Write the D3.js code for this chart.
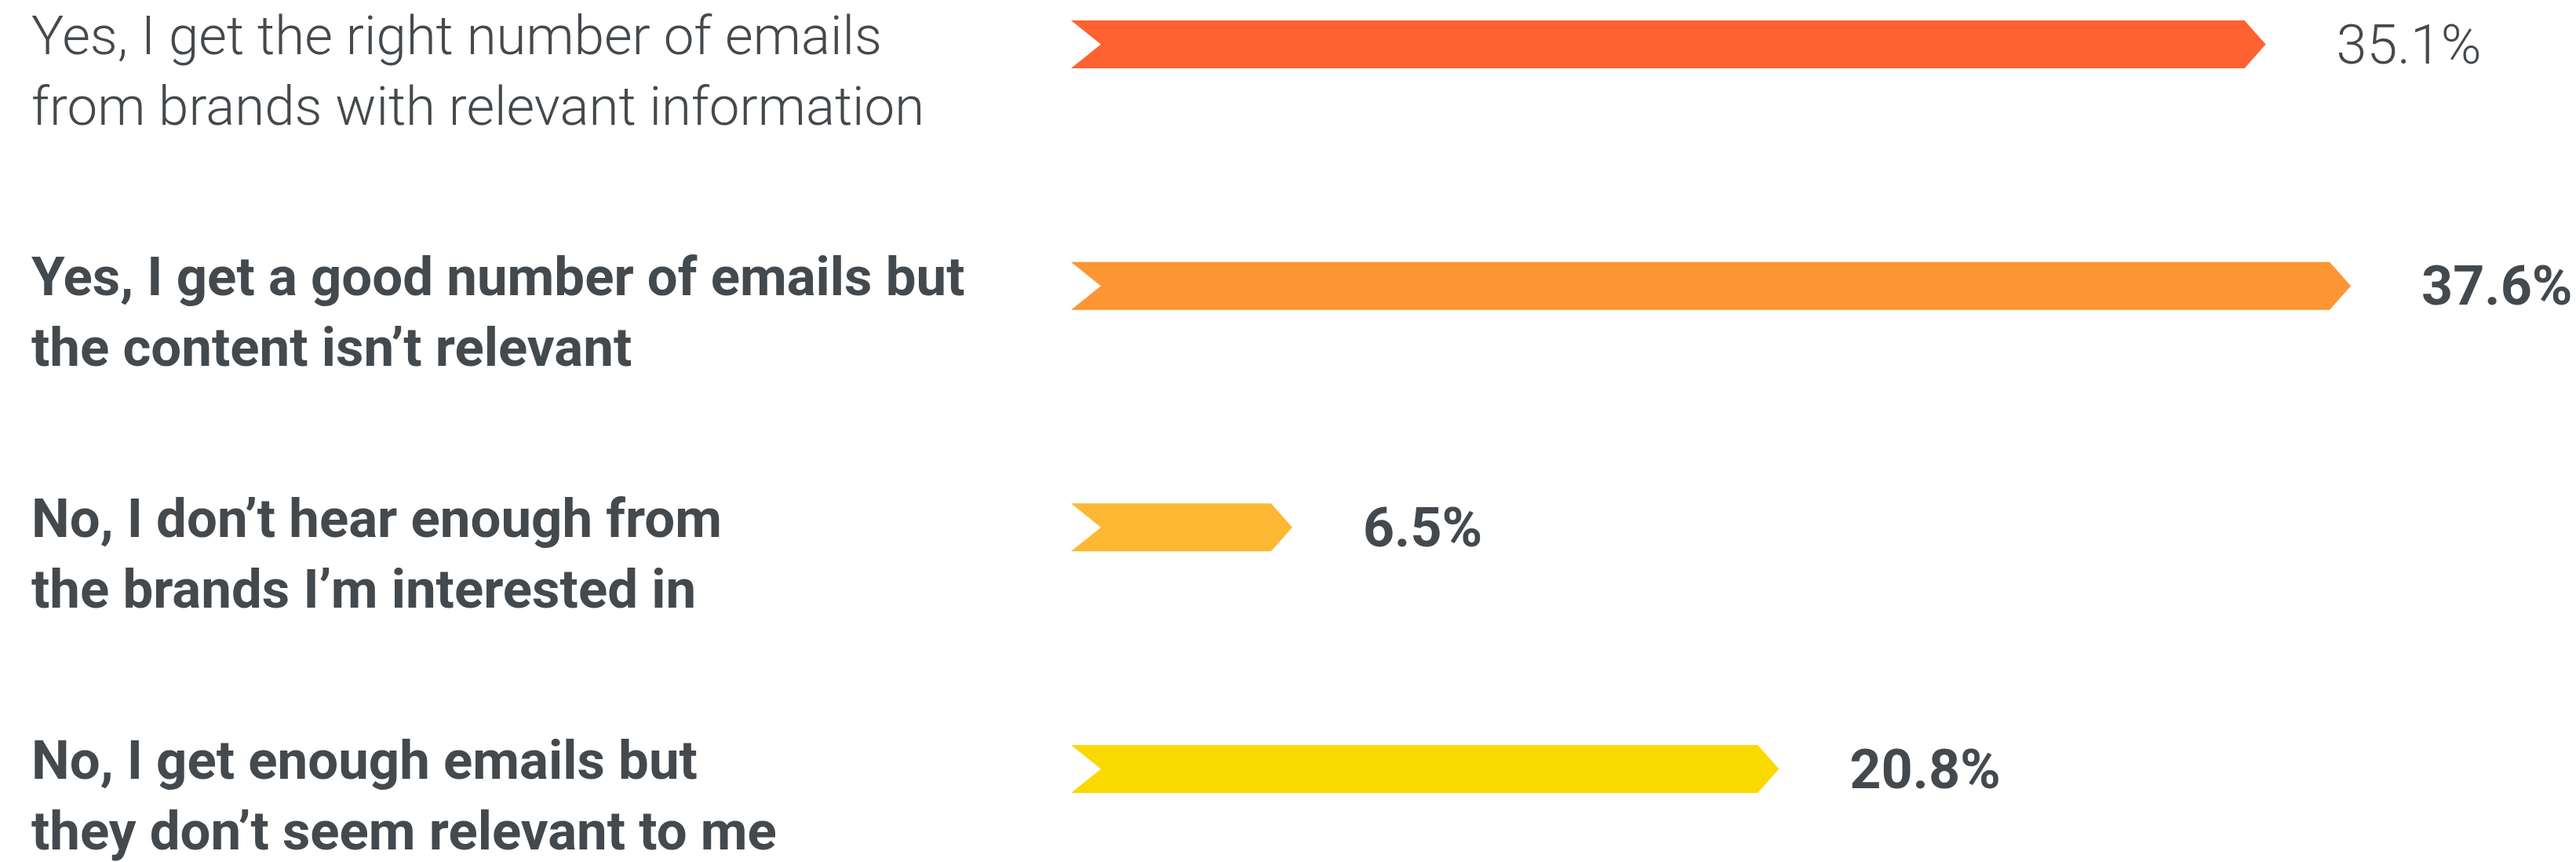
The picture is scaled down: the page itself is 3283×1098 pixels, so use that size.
<!DOCTYPE html>
<html>
<head>
<meta charset="utf-8">
<script src="https://cdn.jsdelivr.net/npm/d3@7"></script>
<style>
  html, body { margin: 0; padding: 0; background: #ffffff; }
  svg { display: block; }
  text { font-family: Roboto, "Noto Sans", sans-serif; fill: #44494d; }
</style>
</head>
<body>
<svg id="chart" width="3283" height="1098"></svg>
<script>
// Survey answers: label lines, share of respondents (%), bar colour
const answers = [
  ["Yes, I get the right number of emails", "from brands with relevant information"],
  ["Yes, I get a good number of emails but", "the content isn\u2019t relevant"],
  ["No, I don\u2019t hear enough from", "the brands I\u2019m interested in"],
  ["No, I get enough emails but", "they don\u2019t seem relevant to me"]
];
const shares = [35.1, 37.6, 6.5, 20.8];
const colors = ["#ff6133", "#fd9533", "#fdb833", "#fad900"];
const weights = [300, 700, 700, 700];

const W = 3283, H = 1098;
const svg = d3.select("#chart");

const rows = d3.range(shares.length);
const y = d3.scalePoint().domain(rows).range([56.5, 979.5]);
const x = d3.scaleLinear().domain([0, 37.6]).range([1365, 2996]);

const barH = 61, notch = 38, tip = 27;

// Chevron-shaped bar: notched tail at the left, pointed head at the value
function chevron(v, cy) {
  const x0 = x(0), x1 = x(v), top = cy - barH / 2, bot = cy + barH / 2;
  return `M${x0},${top} L${x1 - tip},${top} L${x1},${cy} L${x1 - tip},${bot} L${x0},${bot} L${x0 + notch},${cy} Z`;
}

const g = svg.append("g");

g.selectAll("path.bar")
  .data(rows)
  .join("path")
  .attr("class", "bar")
  .attr("d", i => chevron(shares[i], y(i)))
  .attr("fill", i => colors[i]);

// Value labels after each bar
g.selectAll("text.value")
  .data(rows)
  .join("text")
  .attr("class", "value")
  .attr("x", i => x(shares[i]) + 90)
  .attr("y", i => y(i) + 24)
  .attr("font-size", 70)
  .attr("font-weight", i => weights[i])
  .text(i => d3.format(".1f")(shares[i]) + "%");

// Two-line answer labels on the left
const lbl = g.selectAll("text.answer")
  .data(rows)
  .join("text")
  .attr("class", "answer")
  .attr("x", 40)
  .attr("y", i => y(i) + 12)
  .attr("font-size", 69)
  .attr("font-weight", i => weights[i]);

lbl.selectAll("tspan")
  .data(i => answers[i])
  .join("tspan")
  .attr("x", 40)
  .attr("dy", (d, j) => j === 0 ? 0 : 90)
  .text(d => d);
</script>
</body>
</html>
